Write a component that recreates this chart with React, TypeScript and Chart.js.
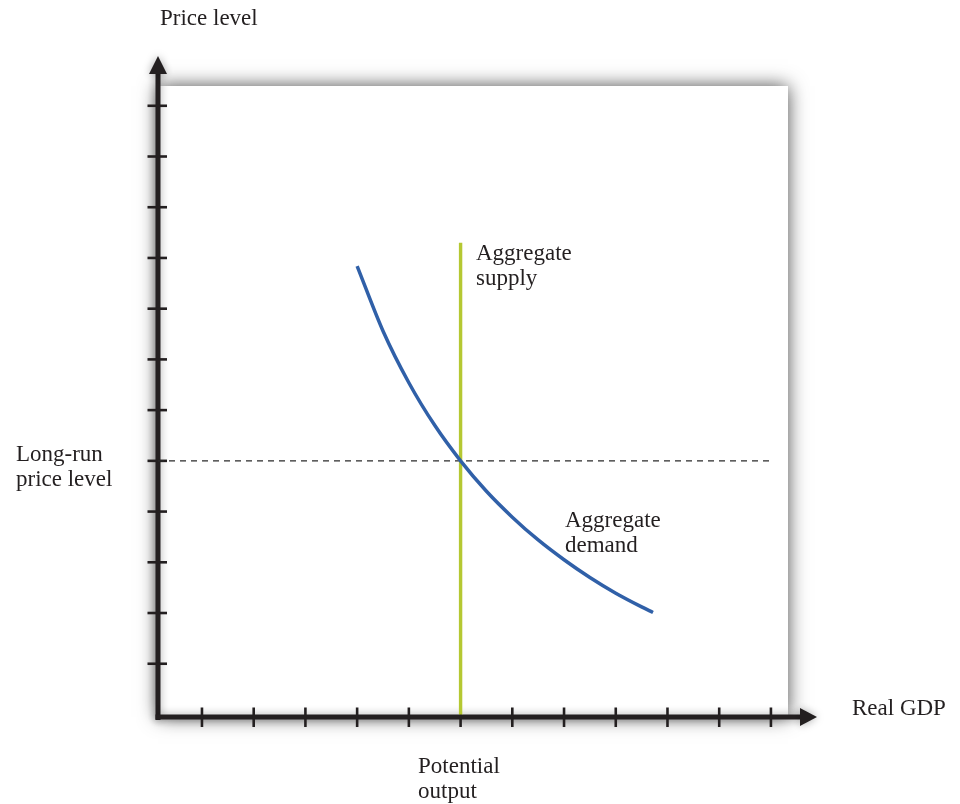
import React, { useEffect, useRef } from "react";
import { Chart, registerables } from "chart.js";

Chart.register(...registerables);

// Axis ranges (unit = one tick)
const X_MIN = 0.15;
const X_MAX = 12.33;
const Y_MIN = -0.05;
const Y_MAX = 12.39;
const X_TICKS = [1, 2, 3, 4, 5, 6, 7, 8, 9, 10, 11, 12];
const Y_TICKS = [1, 2, 3, 4, 5, 6, 7, 8, 9, 10, 11, 12];

// Aggregate demand curve
const AD_X = [4.0, 4.5, 5.0, 5.5, 6.0, 6.5, 7.0, 7.5, 8.0, 8.5, 9.0, 9.5, 9.72];
const AD_Y = [8.84, 7.56, 6.54, 5.7, 5.0, 4.4, 3.89, 3.44, 3.05, 2.7, 2.39, 2.12, 2.01];

// Long-run aggregate supply (vertical at potential output)
const POTENTIAL_OUTPUT = 6;
const AS_Y = [0, 9.3];

// Long-run price level (dashed)
const PRICE_LEVEL = 5;
const DASH_X = [X_MIN, 12];

const INK = "#231f20";
const FONT = '23px "Liberation Serif", "Times New Roman", serif';

const decorPlugin = {
  id: "decor",
  beforeDatasetsDraw(chart: any) {
    const { ctx, chartArea, scales } = chart;
    const xs = scales.x;
    const ys = scales.y;
    const ox = xs.getPixelForValue(X_MIN);
    const oy = ys.getPixelForValue(Y_MIN);
    ctx.save();
    ctx.shadowColor = "rgba(0,0,0,0.7)";
    ctx.shadowBlur = 18;
    ctx.fillStyle = "#ffffff";
    ctx.fillRect(chartArea.left, chartArea.top, chartArea.right - chartArea.left, chartArea.bottom - chartArea.top);
    ctx.restore();

    ctx.save();
    ctx.shadowColor = "rgba(0,0,0,0.35)";
    ctx.shadowBlur = 8;
    ctx.fillStyle = INK;
    // y axis
    ctx.fillRect(ox - 2.5, 72, 5, oy + 3 - 72);
    ctx.beginPath();
    ctx.moveTo(ox, 56);
    ctx.lineTo(ox + 9, 74);
    ctx.lineTo(ox - 9, 74);
    ctx.closePath();
    ctx.fill();
    // x axis
    ctx.fillRect(ox - 2.5, oy - 2.5, 802 - (ox - 2.5), 5);
    ctx.beginPath();
    ctx.moveTo(817, oy);
    ctx.lineTo(800, oy - 9);
    ctx.lineTo(800, oy + 9);
    ctx.closePath();
    ctx.fill();
    ctx.restore();

    ctx.save();
    ctx.strokeStyle = INK;
    ctx.lineWidth = 2.6;
    X_TICKS.forEach((t) => {
      const px = xs.getPixelForValue(t);
      ctx.beginPath();
      ctx.moveTo(px, oy - 9.5);
      ctx.lineTo(px, oy + 10);
      ctx.stroke();
    });
    Y_TICKS.forEach((t) => {
      const py = ys.getPixelForValue(t);
      ctx.beginPath();
      ctx.moveTo(ox - 10.5, py);
      ctx.lineTo(ox + 9, py);
      ctx.stroke();
    });
    ctx.restore();
  },
  afterDraw(chart: any) {
    const { ctx } = chart;
    ctx.save();
    ctx.fillStyle = INK;
    ctx.font = FONT;
    ctx.textBaseline = "alphabetic";
    ctx.textAlign = "left";
    ctx.fillText("Price level", 160, 25);
    ctx.fillText("Real GDP", 852, 715);
    ctx.fillText("Long-run", 16, 461);
    ctx.fillText("price level", 16, 486);
    ctx.fillText("Aggregate", 476, 260);
    ctx.fillText("supply", 476, 285);
    ctx.fillText("Aggregate", 565, 527);
    ctx.fillText("demand", 565, 552);
    ctx.fillText("Potential", 418, 773);
    ctx.fillText("output", 418, 798);
    ctx.restore();
  },
};

export default function App() {
  const ref = useRef<HTMLCanvasElement>(null);
  useEffect(() => {
    if (!ref.current) return;
    const chart = new Chart(ref.current, {
      type: "line",
      data: {
        datasets: [
          {
            label: "Aggregate demand",
            data: AD_X.map((x, i) => ({ x, y: AD_Y[i] })),
            borderColor: "#3060a8",
            borderWidth: 3.5,
            pointRadius: 0,
            cubicInterpolationMode: "monotone",
            fill: false,
            order: 0,
          },
          {
            label: "Aggregate supply",
            data: AS_Y.map((y) => ({ x: POTENTIAL_OUTPUT, y })),
            borderColor: "#b5c832",
            borderWidth: 3.4,
            pointRadius: 0,
            fill: false,
            order: 1,
          },
          {
            label: "Long-run price level",
            data: DASH_X.map((x) => ({ x, y: PRICE_LEVEL })),
            borderColor: "#2a2a2a",
            borderWidth: 1.2,
            borderDash: [6, 5],
            pointRadius: 0,
            fill: false,
            order: 2,
          },
        ],
      },
      options: {
        responsive: false,
        animation: false,
        devicePixelRatio: 1,
        layout: { padding: { left: 158, top: 86, right: 172, bottom: 87 } },
        plugins: { legend: { display: false }, tooltip: { enabled: false } },
        scales: {
          x: { type: "linear", min: X_MIN, max: X_MAX, display: false },
          y: { type: "linear", min: Y_MIN, max: Y_MAX, display: false },
        },
      },
      plugins: [decorPlugin],
    } as any);
    return () => chart.destroy();
  }, []);
  return (
    <div style={{ position: "absolute", left: 0, top: 0, width: 960, height: 804, background: "#fff" }}>
      <canvas ref={ref} width={960} height={804} style={{ display: "block" }} />
    </div>
  );
}
